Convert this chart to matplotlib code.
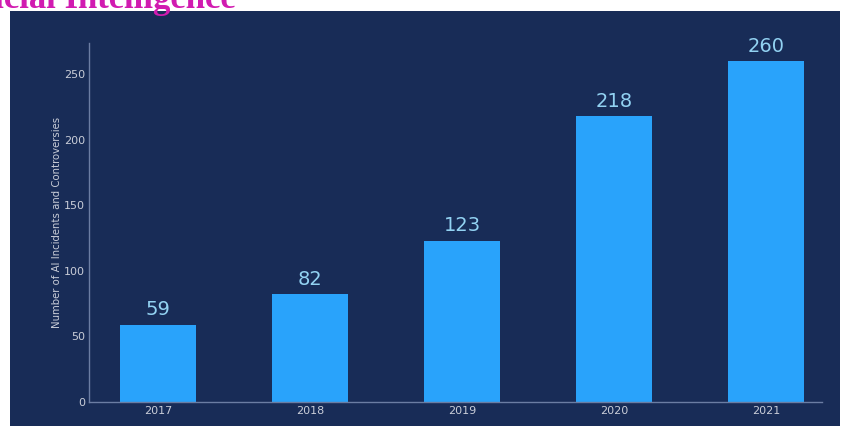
import matplotlib.pyplot as plt
import matplotlib.patches as patches

# Data
years = ["2017", "2018", "2019", "2020", "2021"]
incidents = [59, 82, 123, 218, 260]
yticks = [0, 50, 100, 150, 200, 250]

NAVY = "#182c57"
BAR = "#29a3fb"
VALUE = "#92d2f2"
SPINE = "#6b7da3"
TICK = "#c9cdd8"

fig = plt.figure(figsize=(8.43, 4.26), dpi=100)
fig.patch.set_facecolor("white")

# Dark panel behind the chart
panel = patches.Rectangle((10 / 843, 0), 830 / 843, 1 - 11 / 426,
                          transform=fig.transFigure, facecolor=NAVY,
                          edgecolor="none", zorder=-1)
fig.patches.append(panel)

# Cut-off heading at the top (only its tail is visible)
fig.text(236 / 843, 1 - 8.5 / 426, "Artificial Intelligence", color="#d11bb0",
         fontsize=25, fontweight="bold", family="Liberation Serif",
         ha="right", va="baseline")

ax = fig.add_axes([89 / 843, 1 - 402 / 426, (822 - 89) / 843, (402 - 43) / 426])
ax.set_facecolor("none")

x = range(len(years))
bars = ax.bar(x, incidents, width=0.5, color=BAR, zorder=2)

for xi, v in zip(x, incidents):
    ax.text(xi, v + 4, str(v), ha="center", va="bottom",
            color=VALUE, fontsize=14)

ax.set_xlim(-0.454, 4.368)
ax.set_ylim(0, 273.6)
ax.set_xticks(list(x))
ax.set_xticklabels(years)
ax.set_yticks(yticks)
ax.tick_params(length=0, colors=TICK, labelsize=8, pad=3)
ax.set_ylabel("Number of AI Incidents and Controversies", color=TICK,
              fontsize=7.3, labelpad=1)

for side in ["top", "right"]:
    ax.spines[side].set_visible(False)
for side in ["left", "bottom"]:
    ax.spines[side].set_color(SPINE)
    ax.spines[side].set_linewidth(1)

plt.savefig("out.png", dpi=100)
